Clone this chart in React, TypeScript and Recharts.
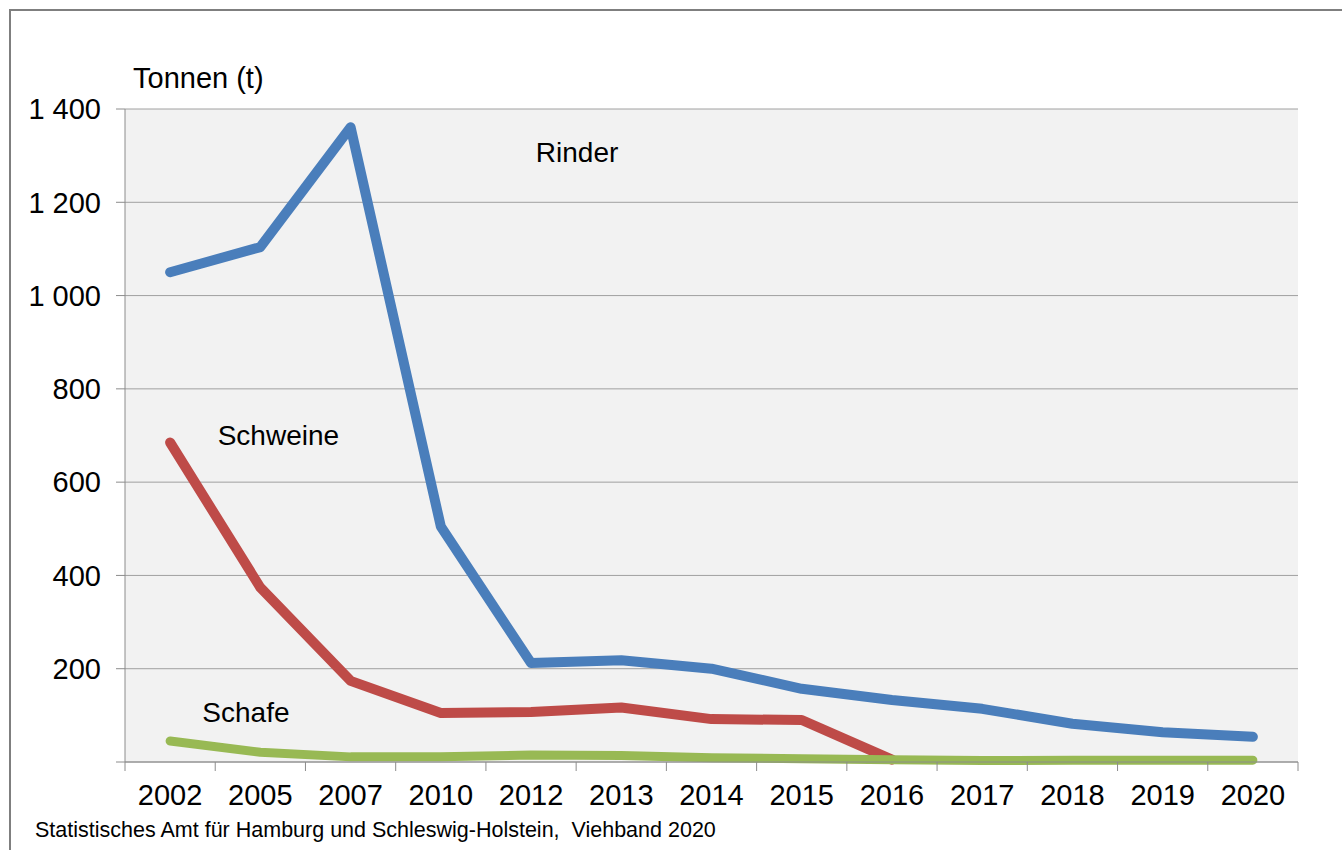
import React from 'react';
import { LineChart, Line, XAxis, YAxis, CartesianGrid, ReferenceDot } from 'recharts';

const years = ['2002','2005','2007','2010','2012','2013','2014','2015','2016','2017','2018','2019','2020'];
const rinder = [1050, 1104, 1361, 505, 212, 218, 200, 157, 133, 114, 82, 64, 54];
const schweine: (number | null)[] = [685, 374, 174, 105, 107, 117, 92, 90, 5, null, null, null, null];
const schafe = [45, 21, 11, 11, 15, 14, 9, 7, 5, 3, 4, 4, 4];
const yTicks = [0, 200, 400, 600, 800, 1000, 1200, 1400];

const data = years.map((y, i) => ({ year: y, pos: i + 0.5, Rinder: rinder[i], Schweine: schweine[i], Schafe: schafe[i] }));

const FONT = '"Liberation Sans", Arial, sans-serif';
const AXIS = '#8c8c8c';
const TICK_MARGIN = 22;
const fmt = (v: number) => (v === 0 ? '' : v >= 1000 ? `${Math.floor(v / 1000)} ${String(v % 1000).padStart(3, '0')}` : String(v));
const labelStyle = { fontSize: 28, fill: '#000', fontFamily: FONT };

const YearTick = (props: any) => {
  const { x, y, payload, index, visibleTicksCount } = props;
  const off = payload && typeof payload.offset === 'number' ? payload.offset : 0;
  const axisY = y - TICK_MARGIN;
  return (
    <g>
      {off > 0 && <line x1={x - off} x2={x - off} y1={axisY} y2={axisY + 9} stroke={AXIS} />}
      {off > 0 && index === visibleTicksCount - 1 && <line x1={x + off} x2={x + off} y1={axisY} y2={axisY + 9} stroke={AXIS} />}
      <text x={x} y={y} dy="0.71em" textAnchor="middle" fontSize={29} fontFamily={FONT} fill="#000">{payload.value}</text>
    </g>
  );
};

export default function App() {
  return (
    <div style={{ position: 'absolute', left: 0, top: 0, width: 1342, height: 850, background: '#fff', fontFamily: FONT }}>
      <div style={{ position: 'absolute', left: 9, top: 9, width: 1340, height: 850, borderLeft: '2px solid #7f7f7f', borderTop: '2px solid #7f7f7f' }} />
      <svg width={1342} height={850} style={{ position: 'absolute', left: 0, top: 0 }}>
        <text x={133} y={88} fontSize={29} fontFamily={FONT} fill="#000">Tonnen (t)</text>
        <text x={35} y={837} fontSize={21.5} fontFamily={FONT} fill="#000" style={{ whiteSpace: 'pre' }} xmlSpace="preserve">Statistisches Amt für Hamburg und Schleswig-Holstein,  Viehband 2020</text>
      </svg>
      <LineChart width={1342} height={850} data={data} margin={{ top: 109, right: 44, bottom: 28, left: 0 }} style={{ position: 'absolute', left: 0, top: 0 }}>
        <CartesianGrid vertical={false} horizontal={true} stroke="#a0a0a0" fill="#f2f2f2" />
        <XAxis xAxisId="a" dataKey="year" type="category" scale="band" tickLine={false} axisLine={{ stroke: AXIS }} height={60}
          tick={<YearTick />} tickSize={0} tickMargin={TICK_MARGIN} interval={0} />
        <XAxis xAxisId="b" dataKey="pos" type="number" domain={[0, 13]} hide allowDataOverflow />
        <YAxis width={125} domain={[0, 1400]} ticks={yTicks} tickFormatter={fmt} interval={0}
          axisLine={{ stroke: AXIS }} tickLine={{ stroke: AXIS }} tickSize={9} tickMargin={15}
          tick={{ fontSize: 29, fill: '#000', fontFamily: FONT }} />
        <Line xAxisId="a" dataKey="Rinder" stroke="#4a7ebb" strokeWidth={10} dot={false} isAnimationActive={false} strokeLinecap="round" strokeLinejoin="round" />
        <Line xAxisId="a" dataKey="Schweine" stroke="#be4b48" strokeWidth={10} dot={false} isAnimationActive={false} strokeLinecap="round" strokeLinejoin="round" />
        <Line xAxisId="a" dataKey="Schafe" stroke="#98b954" strokeWidth={9} dot={false} isAnimationActive={false} strokeLinecap="round" strokeLinejoin="round" />
        <ReferenceDot xAxisId="b" x={5.01} y={1308} r={0} label={{ value: 'Rinder', position: 'center', ...labelStyle }} />
        <ReferenceDot xAxisId="b" x={1.70} y={701} r={0} label={{ value: 'Schweine', position: 'center', ...labelStyle }} />
        <ReferenceDot xAxisId="b" x={1.34} y={107} r={0} label={{ value: 'Schafe', position: 'center', ...labelStyle }} />
      </LineChart>
    </div>
  );
}
